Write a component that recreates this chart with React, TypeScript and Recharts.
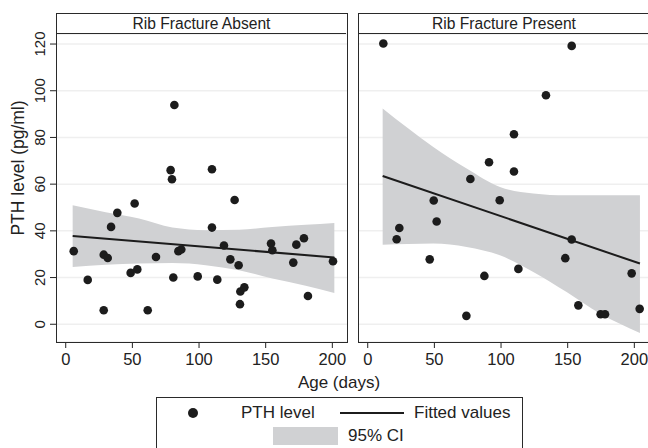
import React from 'react';
import {
  ComposedChart,
  Area,
  Line,
  Scatter,
  XAxis,
  YAxis,
  CartesianGrid,
} from 'recharts';

// Age (days) and PTH level (pg/ml)
const absentAge = [6, 16.5, 28.5, 31.5, 28.5, 34, 38.7, 48.7, 53.7, 51.7, 61.5, 67.7, 79.7, 78.7, 81.5, 80.7, 84.5, 86.7, 99, 109.7, 109.7, 113.7, 118.7, 123.5, 126.7, 129.7, 131, 134, 130.7, 154, 155, 170.7, 173, 178.7, 181.7, 200.5];
const absentPth = [31.3, 19, 29.8, 28.4, 6, 41.7, 47.7, 22, 23.5, 51.7, 6, 28.8, 62.1, 66, 93.9, 20, 31.3, 32, 20.5, 66.4, 41.4, 19.1, 33.7, 27.8, 53.2, 25.3, 14, 15.8, 8.6, 34.6, 31.7, 26.4, 34.1, 36.8, 12.1, 27];

const presentAge = [11.7, 153, 133.7, 109.7, 91, 109.7, 77, 49.5, 99, 23.7, 51.7, 21.7, 153, 46.5, 148.2, 87.5, 113, 198, 74, 158, 174.7, 178, 204];
const presentPth = [120.2, 119.2, 98.1, 81.4, 69.4, 65.4, 62.2, 53, 53.1, 41.2, 44, 36.4, 36.3, 27.8, 28.3, 20.7, 23.7, 21.8, 3.6, 8.1, 4.3, 4.3, 6.6];

// 95% CI band and fitted line
const absentBandX = [5.2, 30, 55, 80, 105, 130, 155, 180, 201.5];
const absentBandLo = [24.5, 25.5, 26, 26.2, 25.3, 23.1, 19.6, 16.5, 13.4];
const absentBandHi = [51, 48, 45.3, 41.4, 40.3, 40.5, 41.7, 42.6, 43.4];
const absentFit = [37.8, 28.6];

const presentBandX = [11.2, 30, 49.2, 74.2, 99.2, 124.2, 149.2, 174.2, 204.2];
const presentBandLo = [34.1, 34.4, 34.6, 33.1, 29.5, 22.4, 13.8, 4.6, -3.7];
const presentBandHi = [92.4, 84, 75.9, 66.7, 58.8, 56, 55.2, 55.2, 55.2];
const presentFit = [63.5, 26];

const yTicks = [0, 20, 40, 60, 80, 100, 120];
const xTicks = [0, 50, 100, 150, 200];

const FONT = '"Liberation Sans", Arial, sans-serif';
const INK = '#1c1c1c';
const BAND = '#d0d1d3';

function buildRows(bx: number[], lo: number[], hi: number[], fit: number[]) {
  return bx.map((x, i) => ({
    x,
    band: [lo[i], hi[i]],
    fit: i === 0 ? fit[0] : i === bx.length - 1 ? fit[1] : null,
  }));
}

function buildPoints(ages: number[], vals: number[]) {
  return ages.map((x, i) => ({ x, y: vals[i] }));
}

const YTick = (props: any) => {
  const { y, payload } = props;
  return (
    <text
      x={40}
      y={y}
      transform={`rotate(-90 40 ${y})`}
      textAnchor="middle"
      dominantBaseline="central"
      fontSize={15}
      fontFamily={FONT}
      fill="#222"
    >
      {payload.value}
    </text>
  );
};

const XTick = (props: any) => {
  const { x, payload } = props;
  return (
    <text
      x={x}
      y={359}
      textAnchor="middle"
      dominantBaseline="central"
      fontSize={16.5}
      fontFamily={FONT}
      fill="#222"
    >
      {payload.value}
    </text>
  );
};

const Dot = (props: any) => <circle cx={props.cx} cy={props.cy} r={4.3} fill={INK} />;

function Panel({
  rows,
  points,
  showY,
  width,
}: {
  rows: any[];
  points: any[];
  showY: boolean;
  width: number;
}) {
  return (
    <ComposedChart
      width={width}
      height={400}
      data={rows}
      margin={{ top: 34, right: 0, bottom: 0, left: 0 }}
    >
      <CartesianGrid vertical={false} stroke="#efefef" strokeWidth={1.5} />
      <XAxis
        dataKey="x"
        type="number"
        domain={[-7.3, 211]}
        ticks={xTicks}
        allowDataOverflow
        height={58}
        axisLine={false}
        tickLine={{ stroke: '#222' }}
        tickSize={6}
        tick={<XTick />}
        interval={0}
      />
      <YAxis
        type="number"
        domain={[-7.6, 124.3]}
        ticks={yTicks}
        allowDataOverflow
        width={showY ? 56 : 0}
        hide={!showY}
        axisLine={false}
        tickLine={{ stroke: '#222' }}
        tickSize={6}
        tick={<YTick />}
        interval={0}
      />
      <Area
        dataKey="band"
        type="monotone"
        stroke="none"
        fill={BAND}
        fillOpacity={1}
        isAnimationActive={false}
        dot={false}
        activeDot={false}
      />
      <Line
        dataKey="fit"
        type="linear"
        stroke={INK}
        strokeWidth={2}
        connectNulls
        dot={false}
        activeDot={false}
        isAnimationActive={false}
      />
      <Scatter data={points} dataKey="y" shape={<Dot />} isAnimationActive={false} />
    </ComposedChart>
  );
}

const frame = '1px solid #2a2a2a';

export default function App() {
  const absentRows = buildRows(absentBandX, absentBandLo, absentBandHi, absentFit);
  const presentRows = buildRows(presentBandX, presentBandLo, presentBandHi, presentFit);
  const absentPts = buildPoints(absentAge, absentPth);
  const presentPts = buildPoints(presentAge, presentPth);

  const text: React.CSSProperties = { position: 'absolute', fontFamily: FONT, color: '#222', whiteSpace: 'nowrap' };

  return (
    <div style={{ position: 'absolute', left: 0, top: 0, width: 648, height: 448, background: '#fff', overflow: 'hidden' }}>
      <div style={{ position: 'absolute', left: 0, top: 0 }}>
        <Panel rows={absentRows} points={absentPts} showY width={347} />
      </div>
      <div style={{ position: 'absolute', left: 358, top: 0 }}>
        <Panel rows={presentRows} points={presentPts} showY={false} width={291} />
      </div>

      {/* panel frames and header strips */}
      <div style={{ position: 'absolute', left: 56, top: 13, width: 290, height: 328, border: frame }} />
      <div style={{ position: 'absolute', left: 56, top: 13, width: 290, height: 20, borderBottom: frame }} />
      <div style={{ position: 'absolute', left: 358, top: 13, width: 292, height: 328, border: frame }} />
      <div style={{ position: 'absolute', left: 358, top: 13, width: 292, height: 20, borderBottom: frame }} />

      <div style={{ ...text, left: 56, top: 14, width: 291, height: 20, lineHeight: '20px', textAlign: 'center', fontSize: 15.6 }}>
        Rib Fracture Absent
      </div>
      <div style={{ ...text, left: 358, top: 14, width: 292, height: 20, lineHeight: '20px', textAlign: 'center', fontSize: 15.6 }}>
        Rib Fracture Present
      </div>

      {/* axis titles */}
      <div
        style={{
          ...text,
          left: 18,
          top: 168,
          fontSize: 17.5,
          transform: 'translate(-50%, -50%) rotate(-90deg)',
        }}
      >
        PTH level (pg/ml)
      </div>
      <div style={{ ...text, left: 339, top: 383, fontSize: 17, transform: 'translate(-50%, -50%)' }}>Age (days)</div>

      {/* legend */}
      <div style={{ position: 'absolute', left: 156, top: 397, width: 365, height: 70, border: frame }} />
      <div style={{ position: 'absolute', left: 188, top: 407.5, width: 10, height: 10, borderRadius: '50%', background: INK }} />
      <div style={{ ...text, left: 241, top: 413, fontSize: 17, transform: 'translateY(-50%)' }}>PTH level</div>
      <div style={{ position: 'absolute', left: 340, top: 412, width: 64, height: 2, background: INK }} />
      <div style={{ ...text, left: 414, top: 413, fontSize: 17, transform: 'translateY(-50%)' }}>Fitted values</div>
      <div style={{ position: 'absolute', left: 273, top: 427, width: 65, height: 18, background: BAND }} />
      <div style={{ ...text, left: 348, top: 436, fontSize: 17, transform: 'translateY(-50%)' }}>95% CI</div>
    </div>
  );
}
